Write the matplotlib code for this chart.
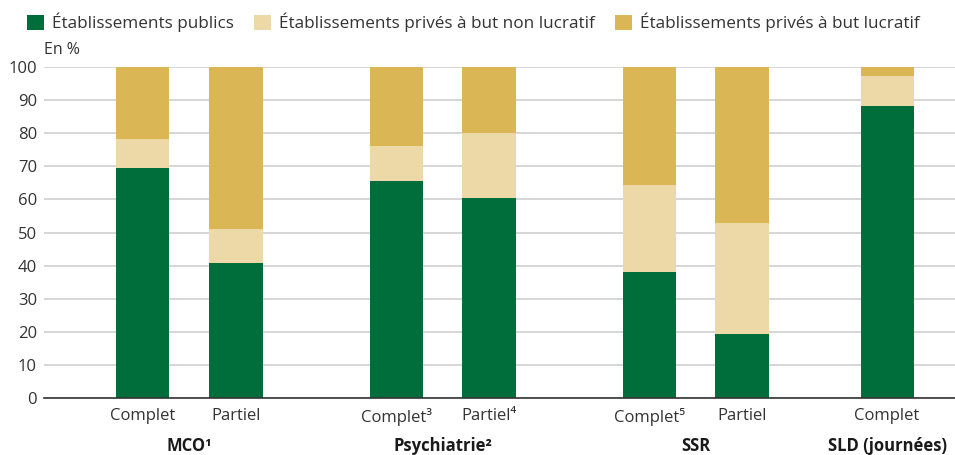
import matplotlib
matplotlib.use("Agg")
import matplotlib.pyplot as plt
import numpy as np

plt.rcParams['font.family'] = ['Open Sans', 'DejaVu Sans']

categories = ["Complet", "Partiel", "Complet³", "Partiel⁴", "Complet⁵", "Partiel", "Complet"]
positions = [0, 1, 2.73, 3.72, 5.45, 6.44, 8.0]
groups = ["MCO¹", "Psychiatrie²", "SSR", "SLD (journées)"]
group_pos = [0.5, 3.225, 5.945, 8.0]
public = [69.5, 40.8, 65.6, 60.4, 38.1, 19.3, 88.2]
prive_nl = [8.7, 10.3, 10.5, 19.7, 26.3, 33.6, 9.1]
prive_l = [100 - a - b for a, b in zip(public, prive_nl)]
series_names = ["Établissements publics", "Établissements privés à but non lucratif",
                "Établissements privés à but lucratif"]
colors = ["#006E3A", "#EDD9A8", "#DBB654"]
yticks = [0, 10, 20, 30, 40, 50, 60, 70, 80, 90, 100]

fig = plt.figure(figsize=(9.55, 4.55), dpi=100)
ax = fig.add_axes([0.046, 0.125, 0.954, 0.728])
w = 0.57
bottom = np.zeros(len(public))
handles = []
for vals, c, name in zip([public, prive_nl, prive_l], colors, series_names):
    h = ax.bar(positions, vals, width=w, bottom=bottom, color=c, label=name, zorder=2)
    bottom += np.array(vals)
    handles.append(h)

ax.set_ylim(0, 100)
ax.set_xlim(-1.065, 8.73)
ax.set_yticks(yticks)
ax.yaxis.grid(True, color="#d0d0d0", linewidth=1.2, zorder=0)
ax.set_axisbelow(True)
for s in ["top", "right", "left"]:
    ax.spines[s].set_visible(False)
ax.spines["bottom"].set_color("#333333")
ax.spines["bottom"].set_linewidth(1.2)
ax.spines["bottom"].set_zorder(3)
ax.tick_params(axis="y", length=0, labelsize=12, colors="#333333", pad=5)
ax.tick_params(axis="x", length=0, labelsize=12, colors="#333333", pad=7)
ax.set_xticks(positions)
ax.set_xticklabels(categories)

for g, p in zip(groups, group_pos):
    ax.text(p, -0.144, g, transform=ax.get_xaxis_transform(), ha="center", va="center",
            fontsize=12, fontweight="bold", color="#1a1a1a")

ax.text(0.0, 1.05, "En %", transform=ax.transAxes, fontsize=11.5, color="#333333",
        ha="left", va="center")

fig.legend(handles=handles, labels=series_names, loc="center left",
           bbox_to_anchor=(0.012, 0.95), ncol=3, frameon=False, fontsize=12.3,
           handlelength=1.0, handleheight=1.0, handletextpad=0.45, columnspacing=1.2,
           labelcolor="#333333")

fig.savefig("out.png", dpi=100)
